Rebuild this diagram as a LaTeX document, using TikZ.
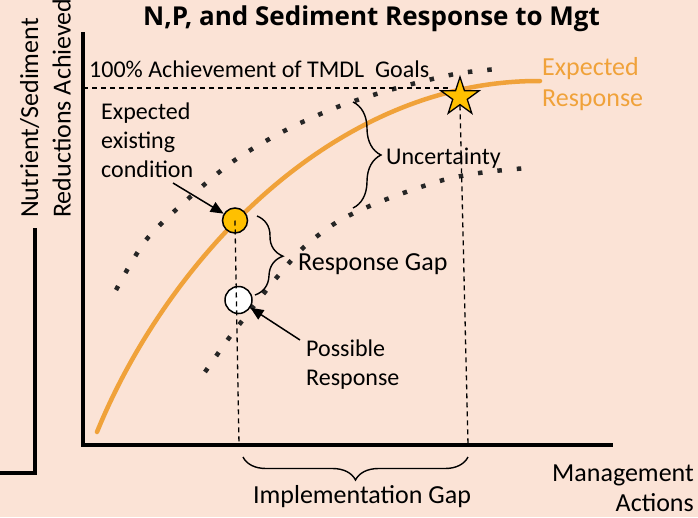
\documentclass[tikz,border=0pt]{standalone}
\usepackage{fontspec}
\setmainfont{Carlito}
\newfontfamily\titlefont{Open Sans}
\usetikzlibrary{arrows.meta,decorations.pathreplacing,shapes.geometric}

\definecolor{bgpeach}{HTML}{FBE3D6}
\definecolor{curveorange}{HTML}{F0A23A}
\definecolor{dotgray}{HTML}{262626}
\definecolor{markgold}{HTML}{FFC000}

\tikzset{
  axisline/.style={line width=4.5pt},
  guide/.style={line width=1.3pt, dash pattern=on 5pt off 4pt},
  bounds/.style={line width=4.5pt, dotgray, dash pattern=on 4.5pt off 15pt},
  response/.style={line width=4.5pt, curveorange, line cap=round},
  lbl/.style={inner sep=0pt, font=\fontsize{24}{29}\selectfont},
  biglbl/.style={inner sep=0pt, font=\fontsize{26}{31}\selectfont},
  pointer/.style={line width=1.5pt, -{Triangle[length=13pt,width=11pt]}},
  bracket/.style={line width=1.4pt, decorate, decoration={brace, amplitude=#1}},
  marker/.style={circle, draw, line width=1.5pt, inner sep=0pt, minimum size=#1},
}

\begin{document}
\begin{tikzpicture}[x=1pt,y=-1pt]
  \useasboundingbox (0,0) rectangle (698,517);
  \fill[bgpeach] (0,0) rectangle (698,517);

  % title
  \node[inner sep=0pt, anchor=base west, font=\titlefont\bfseries\fontsize{26}{31}\selectfont]
    (title) at (143,25) {N,P, and Sediment Response to Mgt};

  % partial frame at the far left
  \draw[axisline] (35,228) -- (35,473) -- (0,473);

  % axes
  \coordinate (ytop) at (83,32);
  \coordinate (origin) at (83,445);
  \coordinate (xend) at (613,445);
  \draw[axisline] (ytop) -- (origin) -- (xend);

  % axis titles
  \node[inner sep=0pt, rotate=90, anchor=base west, font=\fontsize{26}{31}\selectfont]
    (ylab1) at (38,218) {Nutrient/Sediment};
  \node[inner sep=0pt, rotate=90, anchor=base west, font=\fontsize{26}{31}\selectfont]
    (ylab2) at (70.5,218) {Reductions Achieved};
  \node[biglbl, font=\fontsize{26}{30}\selectfont, align=right, anchor=north east]
    (xlab) at (694,465) {Management\\Actions};

  % uncertainty band
  \draw[bounds] plot[smooth] coordinates {(116,290) (146,240) (189,198) (235,160) (286,130)
    (340,106) (397,88) (455,74) (497,69)};
  \draw[bounds] plot[smooth] coordinates {(205,372) (229,338) (253,307) (278,276) (304,247)
    (337,222) (372,205) (409,191) (447,179) (486,172) (527,168)};

  % expected response curve
  \draw[response] (97,432) .. controls (165,265) and (330,80) .. (540,81);
  \node[biglbl, align=left, anchor=north west, text=curveorange] (expresp) at (542,57)
    {Expected\\Response};

  % goal line
  \node[lbl, anchor=base west] (goal) at (89,77) {100\% Achievement of TMDL\ \ Goals};
  \coordinate (goalend) at (450,88);
  \draw[guide] (83,88) -- (goalend);

  % markers
  \node[marker=25pt, fill=markgold] (existing) at (235,220.5) {};
  \node[marker=27pt, fill=white] (possible) at (238.5,300) {};
  \node[star, star points=5, star point ratio=2.618, minimum size=40pt, inner sep=0pt,
    draw, line width=1.3pt, fill=markgold] (goalstar) at (460,97) {};

  % drop lines to the management axis
  \coordinate (dropA) at (239,445);
  \coordinate (dropB) at (468,445);
  \draw[guide] (existing.center) -- (dropA);
  \draw[guide] (goalstar.south) -- (dropB);

  % labels with pointers
  \node[lbl, align=left, anchor=north west] (exlabel) at (101,103)
    {Expected\\existing\\condition};
  \coordinate (exptr) at (173,183);
  \draw[pointer] (exptr) -- (existing);

  \node[lbl, align=left, anchor=north west] (poslabel) at (306,340) {Possible\\Response};
  \coordinate (posptr) at (300,340);
  \draw[pointer] (posptr) -- (possible);

  % braces
  \draw[bracket=28pt] (353,102) -- (353,208);
  \node[lbl, anchor=base west] (unc) at (386,164) {Uncertainty};

  \draw[bracket=27pt] (257,216) -- (255,295);
  \node[biglbl, anchor=base west] (gap) at (298,270) {Response Gap};

  \draw[bracket=23pt] (dropB) ++(0,12) -- (243,457);
  \node[biglbl, anchor=base] (impl) at (362,503) {Implementation Gap};
\end{tikzpicture}
\end{document}
